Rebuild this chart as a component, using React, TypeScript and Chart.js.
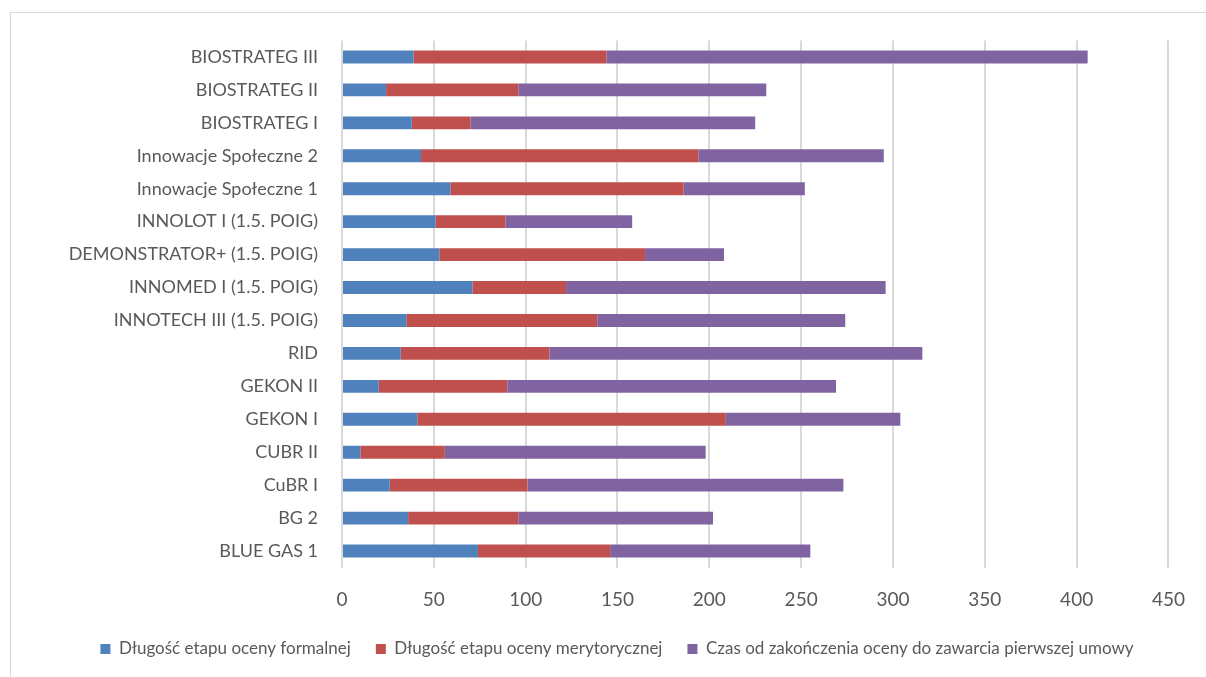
import React, { useEffect, useRef } from "react";
import { Chart, registerables } from "chart.js";

Chart.register(...registerables);

const categories = [
  "BIOSTRATEG III",
  "BIOSTRATEG II",
  "BIOSTRATEG I",
  "Innowacje Społeczne 2",
  "Innowacje Społeczne 1",
  "INNOLOT I (1.5. POIG)",
  "DEMONSTRATOR+ (1.5. POIG)",
  "INNOMED I (1.5. POIG)",
  "INNOTECH III (1.5. POIG)",
  "RID",
  "GEKON II",
  "GEKON I",
  "CUBR II",
  "CuBR I",
  "BG 2",
  "BLUE GAS 1",
];

const formalStage = [39, 24, 38, 43, 59, 51, 53, 71, 35, 32, 20, 41, 10, 26, 36, 74];
const meritStage = [105, 72, 32, 151, 127, 38, 112, 51, 104, 81, 70, 168, 46, 75, 60, 72];
const contractTime = [262, 135, 155, 101, 66, 69, 43, 174, 135, 203, 179, 95, 142, 172, 106, 109];

const seriesNames = [
  "Długość etapu oceny formalnej",
  "Długość etapu oceny merytorycznej",
  "Czas od zakończenia oceny do zawarcia pierwszej umowy",
];

const xTicks = [0, 50, 100, 150, 200, 250, 300, 350, 400, 450];

const FONT = "Lato, 'Open Sans', sans-serif";
const TEXT = "#595959";

export default function App() {
  const ref = useRef<HTMLCanvasElement | null>(null);

  useEffect(() => {
    if (!ref.current) return;
    const legendShift = {
      id: "legendShift",
      afterLayout(chart: any) {
        if (chart.legend) {
          chart.legend.left += 31;
          chart.legend.right += 31;
        }
      },
    };
    const chart = new Chart(ref.current, {
      type: "bar",
      data: {
        labels: categories,
        datasets: [
          { label: seriesNames[0], data: formalStage, backgroundColor: "#4F81BD" },
          { label: seriesNames[1], data: meritStage, backgroundColor: "#C0504D" },
          { label: seriesNames[2], data: contractTime, backgroundColor: "#8064A2" },
        ].map((d) => ({ ...d, borderWidth: 0, barPercentage: 0.39, categoryPercentage: 1 })),
      },
      options: {
        indexAxis: "y",
        animation: false,
        responsive: false,
        maintainAspectRatio: false,
        layout: { padding: { top: 40.5, right: 34, bottom: 9.5, left: 0 } },
        scales: {
          x: {
            stacked: true,
            min: 0,
            max: 450,
            afterBuildTicks: (scale: any) => {
              scale.ticks = xTicks.map((v) => ({ value: v }));
            },
            afterFit: (scale: any) => {
              scale.height = 48;
            },
            ticks: {
              stepSize: 50,
              color: TEXT,
              font: { family: FONT, size: 19 },
              padding: 21,
              maxRotation: 0,
            },
            grid: { color: "#d9d9d9", lineWidth: 2, drawTicks: false },
            border: { display: false },
          },
          y: {
            stacked: true,
            afterFit: (scale: any) => {
              scale.width = 342;
            },
            ticks: {
              color: TEXT,
              font: { family: FONT, size: 18 },
              padding: 24,
              autoSkip: false,
            },
            grid: { display: false, drawTicks: false },
            border: { display: false },
          },
        },
        plugins: {
          legend: {
            position: "bottom",
            labels: {
              boxWidth: 10,
              boxHeight: 10,
              color: TEXT,
              font: { family: FONT, size: 17 },
              padding: 25,
            },
          },
          tooltip: { enabled: false },
        },
      },
      plugins: [legendShift],
    } as any);
    return () => chart.destroy();
  }, []);

  return (
    <div style={{ position: "absolute", left: 0, top: 0, width: 1206, height: 677, background: "#fff", overflow: "hidden" }}>
      <div
        style={{
          position: "absolute",
          left: 10,
          top: 12,
          right: -2,
          bottom: -2,
          borderLeft: "1px solid #d9d9d9",
          borderTop: "1px solid #d9d9d9",
        }}
      />
      <canvas ref={ref} width={1206} height={677} style={{ position: "absolute", left: 0, top: 0 }} />
    </div>
  );
}
